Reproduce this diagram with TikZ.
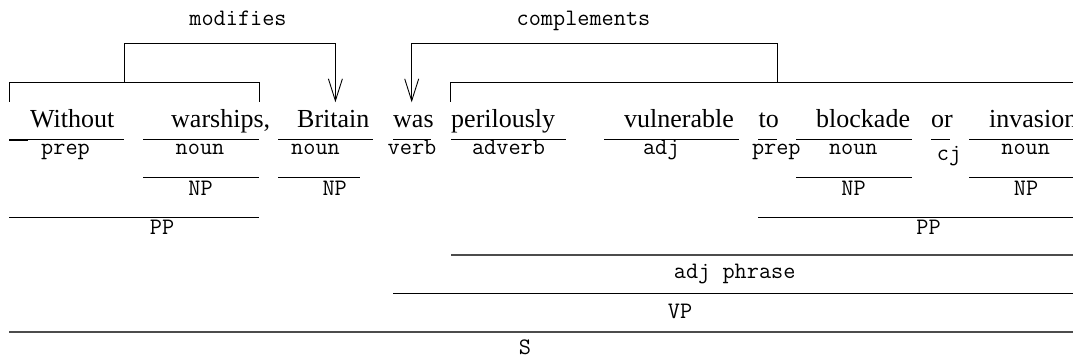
\documentclass[tikz,border=0pt]{standalone}
\usepackage{fontspec}
\setmainfont{Liberation Serif}
\usetikzlibrary{arrows.meta}
\tikzset{
  word/.style={anchor=base west, inner sep=0pt, font=\fontsize{26}{30}\selectfont},
  tag/.style={anchor=base, inner sep=0pt, font=\ttfamily\fontsize{23.6}{26}\selectfont},
  rule/.style={line width=1pt},
  heavyrule/.style={line width=1.8pt, draw=black!70},
  bracket/.style={line width=0.9pt},
  pointer/.style={line width=0.9pt, -{Straight Barb[length=22pt,width=14pt,line width=0.9pt]}},
}
\begin{document}
\begin{tikzpicture}[x=1pt,y=-1pt]
\useasboundingbox (0,0) rectangle (1073,358);
\clip (0,0) rectangle (1073,358);

% ---- relation labels
\node[tag] (modlab) at (238,25.5) {modifies};
\node[tag] (comlab) at (583.5,25.5) {complements};

% ---- words
\node[word] (w1) at (30,128) {Without};
\node[word] (w2) at (171,128) {warships,};
\node[word] (w3) at (297,128) {Britain};
\node[word] (w4) at (393,128) {was};
\node[word] (w5) at (451,128) {perilously};
\node[word] (w6) at (624,128) {vulnerable};
\node[word] (w7) at (758.5,128) {to};
\node[word] (w8) at (816,128) {blockade};
\node[word] (w9) at (931,128) {or};
\node[word] (w10) at (989,128) {invasion};

% ---- word underlines
\draw[rule] (9,140) -- (124,140);
\draw[line width=2.6pt] (9,140) -- (28,140);
\draw[rule] (143,140) -- (259,140);
\draw[rule] (278,140) -- (373,140);
\draw[rule] (393,140) -- (431,140);
\draw[rule] (451,140) -- (566,140);
\draw[rule] (604,140) -- (739,140);
\draw[rule] (758,140) -- (777,140);
\draw[rule] (796,140) -- (912,140);
\draw[rule] (931,140) -- (950,140);
\draw[rule] (969,140) -- (1073,140);

% ---- part-of-speech tags
\node[tag] (t1) at (65.5,155) {prep};
\node[tag] (t2) at (200,155) {noun};
\node[tag] (t3) at (315.5,155) {noun};
\node[tag] (t4) at (412,155) {verb};
\node[tag] (t5) at (508.5,155) {adverb};
\node[tag] (t6) at (661.3,155) {adj};
\node[tag] (t7) at (776.3,155) {prep};
\node[tag] (t8) at (853.3,155) {noun};
\node[tag] (t9) at (949,161) {cj};
\node[tag] (t10) at (1025.7,155) {noun};

% ---- NP level
\draw[rule] (143,178) -- (259,178);
\draw[rule] (278,178) -- (360,178);
\draw[rule] (796,178) -- (912,178);
\draw[rule] (969,178) -- (1073,178);
\node[tag] (np1) at (200.5,195.7) {NP};
\node[tag] (np2) at (334.7,195.7) {NP};
\node[tag] (np3) at (853.5,195.7) {NP};
\node[tag] (np4) at (1026,195.7) {NP};

% ---- PP level
\draw[rule] (9,217) -- (259,217);
\draw[rule] (758,217) -- (1073,217);
\node[tag] (pp1) at (162,234) {PP};
\node[tag] (pp2) at (928.5,234) {PP};

% ---- adj phrase
\draw[heavyrule] (451,255) -- (1073,255);
\node[tag] (ap) at (734.7,278) {adj phrase};

% ---- VP
\draw[rule] (393,293.3) -- (1073,293.3);
\node[tag] (vp) at (680,318) {VP};

% ---- S
\draw[heavyrule] (9,331.7) -- (1073,331.7);
\node[tag] (s) at (525,354) {S};

% ---- modifies bracket
\coordinate (mL) at (9,101.7);
\coordinate (mLt) at (9,82.5);
\coordinate (mRt) at (259,82.5);
\coordinate (mR) at (259,101.7);
\coordinate (mStem) at (124.3,82.5);
\coordinate (mTopL) at (124.3,43.3);
\coordinate (mTopR) at (335.4,43.3);
\coordinate (mTip) at (335.4,102.3);
\draw[bracket] (mL) -- (mLt) -- (mRt) -- (mR);
\draw[bracket] (mStem) -- (mTopL) -- (mTopR);
\draw[pointer] (mTopR) -- (mTip);

% ---- complements bracket
\coordinate (cL) at (450.7,101.7);
\coordinate (cLt) at (450.7,82.5);
\coordinate (cRt) at (1073,82.5);
\coordinate (cStem) at (777.3,82.5);
\coordinate (cTopR) at (777.3,43.3);
\coordinate (cTopL) at (411.7,43.3);
\coordinate (cTip) at (411.7,102.3);
\draw[bracket] (cL) -- (cLt) -- (cRt);
\draw[bracket] (cStem) -- (cTopR) -- (cTopL);
\draw[pointer] (cTopL) -- (cTip);
\end{tikzpicture}
\end{document}
